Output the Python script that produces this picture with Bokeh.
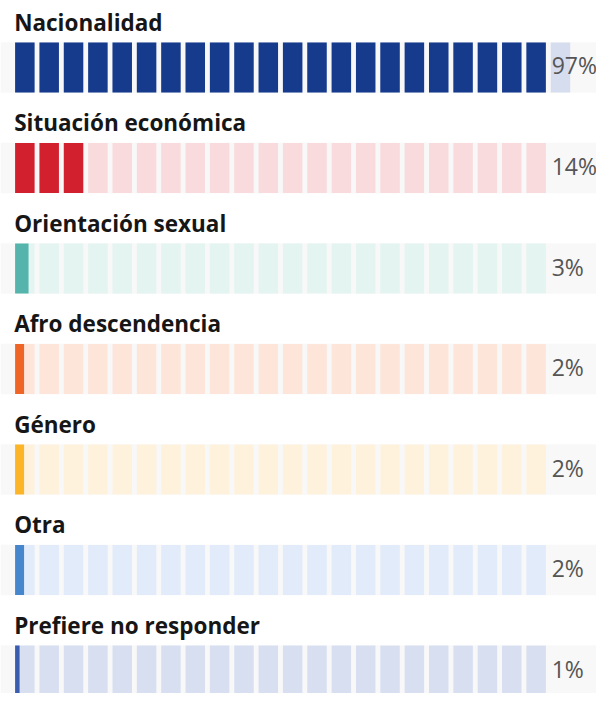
import math
from bokeh.plotting import figure
from bokeh.models import ColumnDataSource, Range1d
from bokeh.core.properties import value
from bokeh.embed import file_html
from bokeh.resources import INLINE

# ---- data ----
categories = ["Nacionalidad", "Situación económica", "Orientación sexual",
              "Afro descendencia", "Género", "Otra", "Prefiere no responder"]
percents = [97, 14, 3, 2, 2, 2, 1]
pct_labels = ["97%", "14%", "3%", "2%", "2%", "2%", "1%"]
dark_colors = ["#173b8c", "#d3202f", "#55b5ac", "#ef6526", "#fbb526", "#4686cc", "#3a5db0"]
light_colors = ["#d5ddef", "#f9dadd", "#e3f4f1", "#fde5da", "#fef2dd", "#e1ebfa", "#d7dff1"]
track_blocks = [23, 22, 22, 22, 22, 22, 22]
TOTAL_BLOCKS = 23

# ---- layout (x in block units, y in row units) ----
PX_BLOCK = 25.0
PX_ROW = 102.83
X0_REF, Y0_REF = 15.0, 43.0
REF_W, REF_H = 612, 709
W, H = 596, 693
BLOCK_W = 20.0 / PX_BLOCK
BLOCK_H = 51.0 / PX_ROW

x_start = (0 - X0_REF) / PX_BLOCK
x_end = (REF_W - X0_REF) / PX_BLOCK
y_top = (0 - Y0_REF) / PX_ROW
y_bot = (REF_H - Y0_REF) / PX_ROW

p = figure(width=W, height=H, output_backend="svg", toolbar_location=None,
           x_range=Range1d(x_start, x_end), y_range=Range1d(y_bot, y_top),
           min_border=0, outline_line_color=None, background_fill_color="white")
p.axis.visible = False
p.grid.visible = False

unit = 100.0 / TOTAL_BLOCKS

band = dict(left=[], right=[], top=[], bottom=[])
tl = dict(left=[], right=[], top=[], bottom=[], color=[])
fl = dict(left=[], right=[], top=[], bottom=[], color=[])

for i, (pct, dc, lc, nt) in enumerate(zip(percents, dark_colors, light_colors, track_blocks)):
    band["left"].append(x_start); band["right"].append(x_end)
    band["top"].append(i - 0.003); band["bottom"].append(i + BLOCK_H + 0.003)
    nb = pct / unit
    full = math.floor(nb) if nb >= 1 else 0
    frac = 0 if nb >= 1 else nb
    for k in range(nt):
        tl["left"].append(k); tl["right"].append(k + BLOCK_W)
        tl["top"].append(i); tl["bottom"].append(i + BLOCK_H)
        tl["color"].append(lc)
    for k in range(full):
        fl["left"].append(k); fl["right"].append(k + BLOCK_W)
        fl["top"].append(i); fl["bottom"].append(i + BLOCK_H)
        fl["color"].append(dc)
    if frac > 0:
        fl["left"].append(full); fl["right"].append(full + BLOCK_W * frac)
        fl["top"].append(i); fl["bottom"].append(i + BLOCK_H)
        fl["color"].append(dc)

p.quad(source=ColumnDataSource(band), left="left", right="right", top="top", bottom="bottom",
       fill_color="#f8f8f8", line_color=None)
p.quad(source=ColumnDataSource(tl), left="left", right="right", top="top", bottom="bottom",
       fill_color="color", line_color=None)
p.quad(source=ColumnDataSource(fl), left="left", right="right", top="top", bottom="bottom",
       fill_color="color", line_color=None)

rows = list(range(len(categories)))
cat_src = ColumnDataSource(dict(x=[-1.0 / PX_BLOCK] * len(rows),
                                y=[r - 21.0 / PX_ROW for r in rows],
                                text=categories))
p.text(source=cat_src, x="x", y="y", text="text", text_font=value("Open Sans"),
       text_font_style="bold", text_font_size="22.5px", text_color="#161616",
       text_baseline="alphabetic", text_align="left")

pct_src = ColumnDataSource(dict(x=[(566 - X0_REF) / PX_BLOCK] * len(rows),
                                y=[r + BLOCK_H / 2 - 2.0 / PX_ROW for r in rows],
                                text=pct_labels))
p.text(source=pct_src, x="x", y="y", text="text", text_font=value("Open Sans"),
       text_font_size="23px", text_color="#555555",
       text_baseline="middle", text_align="left")

open("out.html", "w").write(file_html(p, INLINE))
